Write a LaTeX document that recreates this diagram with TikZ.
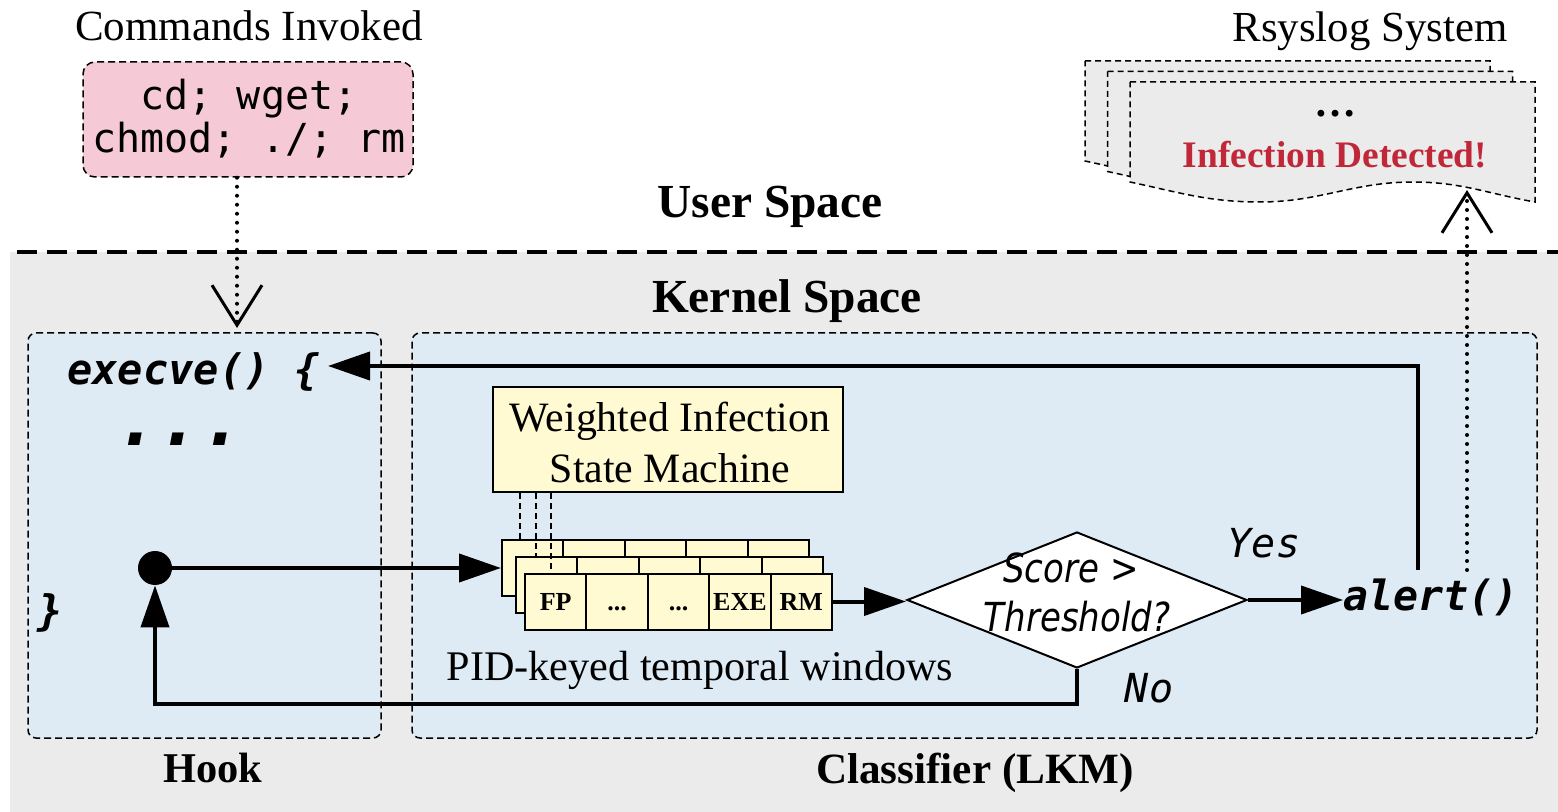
\documentclass[tikz,border=0pt]{standalone}
\usepackage{fontspec}
\setmainfont{Liberation Serif}
\setmonofont{DejaVu Sans Mono}
\newfontfamily\condsans[FakeStretch=0.85]{DejaVu Sans}
\usetikzlibrary{arrows.meta,shapes.geometric,fit}

\definecolor{pinkfill}{HTML}{F5C9D5}
\definecolor{bluefill}{HTML}{DFEBF4}
\definecolor{grayfill}{HTML}{EBEBEB}
\definecolor{yellowfill}{HTML}{FFFAD2}
\definecolor{alertred}{HTML}{C0283A}

\newcommand{\fs}[1]{\fontsize{#1}{1.2\dimexpr#1pt\relax}\selectfont}
\newcommand{\threedots}{...}

\tikzset{
  region/.style={draw, dash pattern=on 3.5pt off 2pt, line width=0.75pt,
    rounded corners=4pt, fill=bluefill, inner sep=0pt},
  flow/.style={line width=2pt, -{Triangle[length=21pt,width=14pt]}},
  hint/.style={line width=2pt, line cap=round, dash pattern=on 0pt off 4.5pt,
    -{Straight Barb[length=20pt,width=25pt,line width=1.5pt]}},
  tie/.style={line width=0.75pt, dash pattern=on 3pt off 2pt},
  cell/.style={draw, line width=1pt, fill=yellowfill, minimum width=30.7pt,
    minimum height=28pt, inner sep=0pt, text height=8.6pt, text depth=0pt,
    font=\bfseries\fs{13}},
  logpage/.style={draw, fill=grayfill, line width=0.75pt, dash pattern=on 3pt off 2pt},
  label/.style={anchor=base, inner sep=0pt},
}

\begin{document}
\begin{tikzpicture}[x=0.5pt, y=-0.5pt]
\useasboundingbox (0,0) rectangle (1558,812);

% kernel space background and the user/kernel boundary
\fill[grayfill] (10,252) rectangle (1558,812);
\draw[line width=2pt, dash pattern=on 10pt off 5pt] (17,252) -- (1558,252);

\node[label, font=\bfseries\fs{23.7}] (user) at (770,218) {User Space};
\node[label, font=\bfseries\fs{23.7}] (kernel) at (787,313) {Kernel Space};

% invoked commands
\node[label, font=\fs{21.5}] (cmdtitle) at (249,41) {Commands Invoked};
\node[draw, dash pattern=on 3.5pt off 2pt, line width=0.75pt, rounded corners=6pt,
  fill=pinkfill, inner sep=0pt, fit={(83,62) (413,177)}] (pink) {};
\node[label, font=\ttfamily\fs{20}] (cmd1) at (249,110) {cd; wget;};
\node[label, font=\ttfamily\fs{20}] (cmd2) at (249,153) {chmod; ./; rm};

% rsyslog pages
\node[label, font=\fs{21.4}] (logtitle) at (1370,42) {Rsyslog System};
\foreach \x/\y in {1085/61, 1107.5/71.5, 1130/82} {
  \draw[logpage] (\x,\y) -- (\x+405,\y) -- (\x+405,\y+120)
    to[out=170,in=0] (\x+283,\y+100)
    to[out=180,in=0] (\x+130,\y+120)
    to[out=180,in=-12] (\x,\y+100) -- cycle;
}
\node[label, font=\bfseries\fs{21}] (logdots) at (1335,117) {…};
\node[label, font=\bfseries\fs{18.7}, text=alertred] (logmsg) at (1335,168) {Infection Detected!};

% hook and classifier regions
\node[region, fit={(28,333) (381,738)}] (hook) {};
\node[region, fit={(412,333) (1537,738)}] (lkm) {};
\node[label, font=\bfseries\fs{21.2}] (hooklbl) at (213,782) {Hook};
\node[label, font=\bfseries\fs{21.6}] (lkmlbl) at (975,783) {Classifier (LKM)};

% hooked system call
\node[anchor=base west, inner sep=0pt, font=\ttfamily\bfseries\itshape\fs{21}] (exec) at (67,385) {execve() \{};
\node[label, font=\ttfamily\bfseries\itshape\fs{35}] (body) at (180,445) {\threedots};
\node[label, font=\ttfamily\bfseries\itshape\fs{21}] (close) at (50,625) {\}};
\node[circle, fill=black, minimum size=17pt, inner sep=0pt] (dot) at (155,568) {};

% state machine and per-PID windows
\node[draw, line width=1pt, fill=yellowfill, inner sep=0pt, fit={(493,387) (843,492)}] (wism) {};
\node[label, font=\fs{20.9}] (wism1) at (670,432) {Weighted Infection};
\node[label, font=\fs{20.9}] (wism2) at (670,482) {State Machine};

\foreach \k in {1,2,3,4,5} {
  \node[cell] (b\k) at ({502+30.7+61.4*(\k-1)},568) {};
}
\foreach \k in {1,2,3,4,5} {
  \node[cell] (m\k) at ({516+30.7+61.4*(\k-1)},584.5) {};
}
\foreach \k/\t in {1/FP, 2/\threedots, 3/\threedots, 4/EXE, 5/RM} {
  \node[cell] (f\k) at ({525+30.7+61.4*(\k-1)},601.5) {\t};
}

\coordinate (t1) at (520,0);
\coordinate (t2) at (536,0);
\coordinate (t3) at (551,0);
\draw[tie] (wism.south -| t1) -- (b1.north -| t1);
\draw[tie] (wism.south -| t2) -- (m1.north -| t2);
\draw[tie] (wism.south -| t3) -- (f1.north -| t3);

\node[label, font=\fs{21.1}] (winlbl) at (700,680) {PID-keyed temporal windows};

% threshold decision
\node[diamond, draw, fill=white, line width=1pt, minimum width=170pt,
  minimum height=68pt, inner sep=0pt] (dec) at (1077,600) {};
\node[label, font=\condsans\itshape\fs{20}] (score) at (1071,582) {Score >};
\node[label, font=\condsans\itshape\fs{20}] (thresh) at (1077,631) {Threshold?};
\node[label, font=\ttfamily\itshape\fs{20}] (yes) at (1264,557) {Yes};
\node[label, font=\ttfamily\itshape\fs{20}] (no) at (1149,702) {No};

\node[anchor=base west, inner xsep=0pt, inner ysep=4pt,
  font=\ttfamily\bfseries\itshape\fs{20.8}] (alert) at (1343,610) {alert()};

% connectors
\coordinate (inv) at (237,328);
\coordinate (upx) at (1418,0);
\coordinate (hookin) at (328,366);
\coordinate (upd) at (1467,0);
\coordinate (logtip) at (1467,190);
\coordinate (loop) at (0,704);

\draw[hint] (pink.south -| inv) -- (inv);
\draw[hint] (alert.north -| upd) -- (logtip);

\draw[flow] (dot.east) -- (b1.west |- dot);
\draw[flow] (f5.east) -- (f5.east -| dec.west);
\draw[flow] (dec.east) -- (dec.east -| alert.west);
\draw[flow] (alert.north -| upx) |- (hookin);
\draw[flow] (dec.south) -- (dec.south |- loop) -| (dot.south);
\end{tikzpicture}
\end{document}
